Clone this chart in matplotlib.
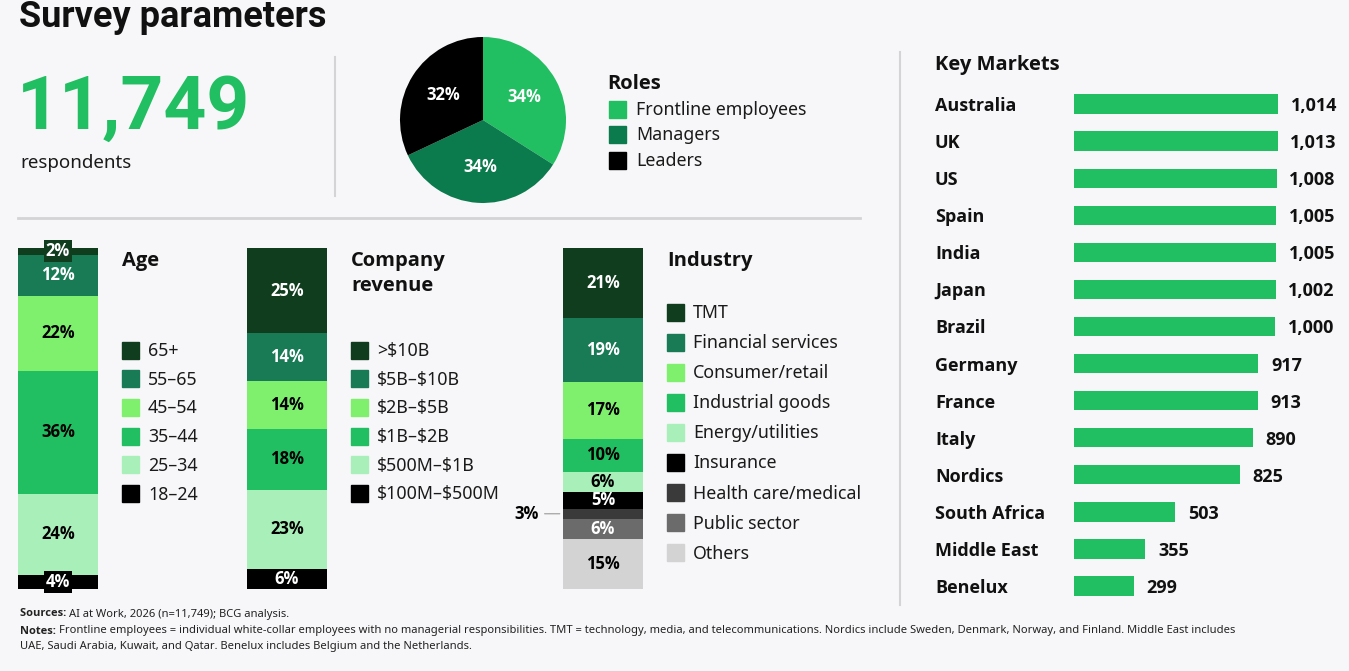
import matplotlib
matplotlib.use("Agg")
import matplotlib.pyplot as plt
import matplotlib.transforms as mtransforms
from matplotlib.patches import Rectangle
import numpy as np

# ---------------- data ----------------
total_respondents = "11,749"

role_labels = ["Frontline employees", "Managers", "Leaders"]
role_values = [34, 34, 32]

age_labels = ["65+", "55\u201365", "45\u201354", "35\u201344", "25\u201334", "18\u201324"]
age_values = [2, 12, 22, 36, 24, 4]

revenue_labels = [">$10B", "$5B\u2013$10B", "$2B\u2013$5B", "$1B\u2013$2B", "$500M\u2013$1B", "$100M\u2013$500M"]
revenue_values = [25, 14, 14, 18, 23, 6]

industry_labels = ["TMT", "Financial services", "Consumer/retail", "Industrial goods",
                   "Energy/utilities", "Insurance", "Health care/medical", "Public sector", "Others"]
industry_values = [21, 19, 17, 10, 6, 5, 3, 6, 15]

market_labels = ["Australia", "UK", "US", "Spain", "India", "Japan", "Brazil", "Germany",
                 "France", "Italy", "Nordics", "South Africa", "Middle East", "Benelux"]
market_values = [1014, 1013, 1008, 1005, 1005, 1002, 1000, 917, 913, 890, 825, 503, 355, 299]

# ---------------- style ----------------
W, H = 1349, 671
BG = "#f7f7f9"
GREEN = "#21bf61"
DARK = "#0f3d1e"
MID = "#197a56"
LIME = "#7ff06e"
PALE = "#a9efb9"
BLACK = "#000000"
GRID = "#d4d4d6"
TXT = "#1a1a1a"

role_colors = [GREEN, "#0b7a4c", BLACK]
age_colors = [DARK, MID, LIME, GREEN, PALE, BLACK]
revenue_colors = [DARK, MID, LIME, GREEN, PALE, BLACK]
industry_colors = [DARK, MID, LIME, GREEN, PALE, BLACK, "#3a3a3a", "#6b6b6b", "#d3d3d3"]

BODY = ["Noto Sans", "DejaVu Sans"]
BOLD = ["Open Sans", "DejaVu Sans"]

plt.rcParams["font.family"] = BODY
plt.rcParams["text.parse_math"] = False

fig = plt.figure(figsize=(W / 100, H / 100), dpi=100, facecolor=BG)


def fx(px):
    return px / W


def fy(py):
    return 1 - py / H


def axes_px(x0, y0, x1, y1):
    """Axes from pixel box (top-left origin)."""
    ax = fig.add_axes([fx(x0), fy(y1), (x1 - x0) / W, (y1 - y0) / H])
    ax.set_facecolor("none")
    ax.set_axis_off()
    return ax


def ftext(x, y, s, **kw):
    return fig.text(fx(x), fy(y), s, **kw)


def is_dark(c):
    r, g, b = matplotlib.colors.to_rgb(c)
    return 0.299 * r + 0.587 * g + 0.114 * b < 0.5


# ---------------- header ----------------
ftext(19, 17, "Survey parameters", fontsize=26, fontweight="bold", color="#111111",
      family=["Roboto", "DejaVu Sans"], va="center", ha="left")
ftext(17, 109, total_respondents, fontsize=54, fontweight="bold", color=GREEN,
      family=["Roboto", "DejaVu Sans"], va="center", ha="left")
ftext(20, 163, "respondents", fontsize=13.5, color=TXT, va="center", ha="left")

# separators
fig.add_artist(plt.Line2D([fx(335), fx(335)], [fy(57), fy(196)], color=GRID, lw=1.5))
fig.add_artist(plt.Line2D([fx(18), fx(860)], [fy(218), fy(218)], color=GRID, lw=2))
fig.add_artist(plt.Line2D([fx(900), fx(900)], [fy(52), fy(605)], color=GRID, lw=1.5))

# ---------------- pie ----------------
axp = axes_px(400, 37, 566, 203)
wedges, _, autotexts = axp.pie(role_values, colors=role_colors, startangle=90, counterclock=False,
                               autopct="%.0f%%", pctdistance=0.57, radius=1,
                               wedgeprops=dict(linewidth=0),
                               textprops=dict(color="white", fontsize=12, fontweight="bold",
                                              family=BOLD))
axp.set_xlim(-1, 1)
axp.set_ylim(-1, 1)
axp.set_aspect("equal")

ftext(607, 84, "Roles", fontsize=14.5, fontweight="bold", family=BOLD, color="#111111",
      va="center")
for i, (lab, col) in enumerate(zip(role_labels, role_colors)):
    yy = 109 + i * 25.5
    fig.add_artist(Rectangle((fx(609), fy(yy + 8.5)), 17 / W, 17 / H, color=col,
                             transform=fig.transFigure))
    ftext(636, yy + 1, lab, fontsize=12.8, color=TXT, va="center")


# ---------------- stacked bars ----------------
def stacked(x0, values, colors, labels, title_lines, legend_x, legend_y0, legend_step,
            small_box=False, outside_small=False):
    ax = axes_px(x0, 248, x0 + 80, 589)
    total = sum(values)
    bottoms = np.concatenate([[0], np.cumsum(values)[:-1]])
    ax.bar([0] * len(values), values, bottom=bottoms, width=1, align="edge",
           color=colors, linewidth=0)
    ax.set_xlim(0, 1)
    ax.set_ylim(total, 0)
    for v, b, c in zip(values, bottoms, colors):
        mid = b + v / 2
        tc = "white" if is_dark(c) else "black"
        if small_box and v < 5:
            ax.text(0.5, mid, f"{v}%", ha="center", va="center", fontsize=12,
                    fontweight="bold", family=BOLD, color="white",
                    bbox=dict(boxstyle="square,pad=0.12", fc=c, ec="none"))
        elif outside_small and v < 4:
            ax.annotate(f"{v}%", xy=(-0.04, mid), xytext=(-0.3, mid),
                        textcoords="data", ha="right", va="center", fontsize=12,
                        fontweight="bold", family=BOLD, color="black",
                        arrowprops=dict(arrowstyle="-", color="#999999", lw=0.8,
                                        shrinkA=2, shrinkB=0),
                        annotation_clip=False)
        else:
            ax.text(0.5, mid, f"{v}%", ha="center", va="center", fontsize=12,
                    fontweight="bold", family=BOLD, color=tc)
    for j, line in enumerate(title_lines):
        ftext(legend_x, 261 + j * 25, line, fontsize=14.5, fontweight="bold", family=BOLD,
              color="#111111", va="center")
    for i, (lab, col) in enumerate(zip(labels, colors)):
        yy = legend_y0 + i * legend_step
        fig.add_artist(Rectangle((fx(legend_x), fy(yy + 8.5)), 17 / W, 17 / H, color=col,
                                 transform=fig.transFigure))
        ftext(legend_x + 26, yy + 1, lab, fontsize=12.8, color=TXT, va="center")


stacked(18, age_values, age_colors, age_labels, ["Age"], 122, 350, 28.7, small_box=True)
stacked(247, revenue_values, revenue_colors, revenue_labels, ["Company", "revenue"], 351, 350, 28.7,
        small_box=True)
stacked(563, industry_values, industry_colors, industry_labels, ["Industry"], 667, 312, 30.1,
        outside_small=True)

# ---------------- key markets ----------------
ftext(935, 65, "Key Markets", fontsize=14.5, fontweight="bold", family=BOLD, color="#111111",
      va="center")
row = 37.08
axm = axes_px(1074, 104 - row / 2, 1349, 104 + row * 13.5)
ypos = np.arange(len(market_values))
axm.barh(ypos, market_values, height=0.52, color=GREEN, linewidth=0)
axm.set_xlim(0, 275 / (204 / 1014))
axm.set_ylim(len(market_values) - 0.5, -0.5)
blend = mtransforms.blended_transform_factory(fig.transFigure, axm.transData)
for y, lab, v in zip(ypos, market_labels, market_values):
    fig.text(fx(935), y, lab, transform=blend, fontsize=13, fontweight="bold", family=BOLD,
             color="#111111", va="center_baseline", ha="left")
    axm.annotate(f"{v:,}", xy=(v, y), xytext=(9, 0), textcoords="offset points",
                 fontsize=13, fontweight="bold", family=BOLD, color="#111111",
                 va="center_baseline", ha="left")

# ---------------- footnotes ----------------
fs = 8.05
NOTE = "#222222"
t = ftext(20, 614, "Sources: ", fontsize=fs, fontweight="bold", family=BOLD, color=NOTE, va="center")
fig.canvas.draw()
bb = t.get_window_extent()
ftext(20 + bb.width, 614, "AI at Work, 2026 (n=11,749); BCG analysis.", fontsize=fs,
      color=NOTE, va="center")
t2 = ftext(20, 631, "Notes: ", fontsize=fs, fontweight="bold", family=BOLD, color=NOTE, va="center")
fig.canvas.draw()
bb2 = t2.get_window_extent()
ftext(20 + bb2.width, 631,
      "Frontline employees = individual white-collar employees with no managerial responsibilities. "
      "TMT = technology, media, and telecommunications. Nordics include Sweden, Denmark, Norway, and "
      "Finland. Middle East includes", fontsize=fs, color=NOTE, va="center")
ftext(20, 646, "UAE, Saudi Arabia, Kuwait, and Qatar. Benelux includes Belgium and the Netherlands.",
      fontsize=fs, color=NOTE, va="center")

fig.savefig("out.png", dpi=100, facecolor=BG)
